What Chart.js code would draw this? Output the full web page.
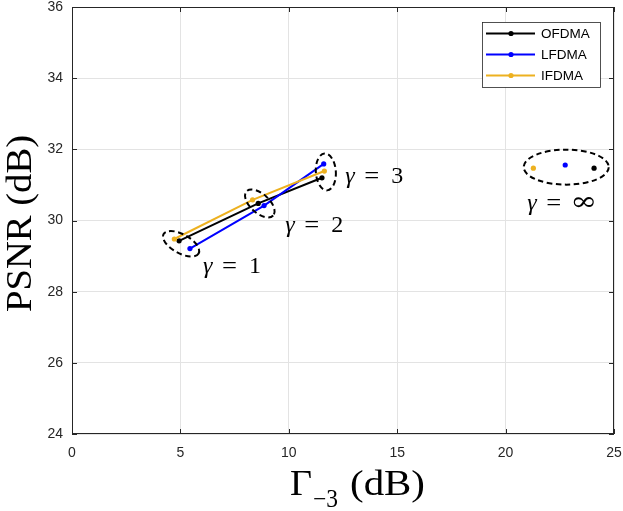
<!DOCTYPE html>
<html><head><meta charset="utf-8">
<script src="https://cdn.jsdelivr.net/npm/chart.js@4.4.0/dist/chart.umd.min.js"></script>
<style>html,body{margin:0;padding:0;background:#fff;overflow:hidden}#wrap{width:623px;height:511px}</style>
</head><body><div id="wrap"><canvas id="c" width="623" height="511"></canvas></div>
<script>
// ---- data ----
const seriesNames = ['OFDMA', 'LFDMA', 'IFDMA'];
const seriesColors = ['#000000', '#0000ff', '#edb120'];
const gammaLabels = ['1', '2', '3', '∞'];
const ofdmaX = [4.94, 8.59, 11.53];
const ofdmaY = [29.43, 30.48, 31.20];
const lfdmaX = [5.44, 8.86, 11.61];
const lfdmaY = [29.21, 30.42, 31.59];
const ifdmaX = [4.72, 8.33, 11.64];
const ifdmaY = [29.48, 30.58, 31.39];
// gamma = infinity points: OFDMA, LFDMA, IFDMA
const infX = [24.08, 22.75, 21.28];
const infY = [31.47, 31.56, 31.47];
const xTicks = [0, 5, 10, 15, 20, 25];
const yTicks = [24, 26, 28, 30, 32, 34, 36];

// ---- styles (pixels) ----
const ellipseStyle = [
  {rx: 20, ry: 9.5, rot: 29, dx: 0, dy: 1},
  {rx: 18, ry: 9.5, rot: 42, dx: 1.5, dy: 0.5},
  {rx: 10, ry: 18.5, rot: -4, dx: 2.5, dy: 1},
  {rx: 42.5, ry: 17.5, rot: 0, dx: 2, dy: 0}
];
const labelStyle = [
  {dx: 22, dy: 30, eq: 19, num: 46},
  {dx: 27, dy: 29, eq: 19, num: 46},
  {dx: 22, dy: 12, eq: 19, num: 46},
  {dx: -37, dy: 43, eq: 19, num: 43}
];

const xsList = [ofdmaX, lfdmaX, ifdmaX];
const ysList = [ofdmaY, lfdmaY, ifdmaY];
const pts = (xs, ys) => xs.map((x, i) => ({x: x, y: ys[i]}));

const datasets = [];
for (let s = 0; s < 3; s++) {
  datasets.push({
    label: seriesNames[s],
    data: pts(xsList[s], ysList[s]),
    showLine: true,
    borderColor: seriesColors[s],
    backgroundColor: seriesColors[s],
    borderWidth: 2,
    pointRadius: 2.6,
    pointBorderWidth: 0,
    pointHoverRadius: 2.6,
    order: 2 - s
  });
}
datasets.push({
  label: 'inf',
  data: pts(infX, infY),
  showLine: false,
  pointRadius: 2.6,
  pointBorderWidth: 0,
  backgroundColor: seriesColors,
  borderColor: seriesColors,
  order: 0
});

function fitText(ctx, text, x, y, target) {
  const w = ctx.measureText(text).width;
  ctx.save();
  ctx.translate(x, y);
  ctx.scale(target / w, 1);
  ctx.fillText(text, 0, 0);
  ctx.restore();
}

const decor = {
  id: 'decor',
  afterDraw(chart) {
    const ctx = chart.ctx;
    const xs = chart.scales.x, ys = chart.scales.y;
    const a = chart.chartArea;
    ctx.save();
    // box
    ctx.strokeStyle = '#262626';
    ctx.lineWidth = 1;
    ctx.strokeRect(a.left + 0.5, a.top + 0.5, a.right - a.left - 1, a.bottom - a.top - 1);
    // inward ticks
    ctx.beginPath();
    xTicks.forEach(v => {
      const p = Math.round(xs.getPixelForValue(v)) + 0.5;
      ctx.moveTo(p, a.bottom); ctx.lineTo(p, a.bottom - 5);
      ctx.moveTo(p, a.top); ctx.lineTo(p, a.top + 5);
    });
    yTicks.forEach(v => {
      const p = Math.round(ys.getPixelForValue(v)) + 0.5;
      ctx.moveTo(a.left, p); ctx.lineTo(a.left + 5, p);
      ctx.moveTo(a.right, p); ctx.lineTo(a.right - 5, p);
    });
    ctx.stroke();

    // ellipses and gamma labels
    const groups = [];
    for (let g = 0; g < 3; g++) {
      groups.push([0, 1, 2].map(s => [xsList[s][g], ysList[s][g]]));
    }
    groups.push(infX.map((x, i) => [x, infY[i]]));
    groups.forEach((grp, g) => {
      let cx = 0, cy = 0;
      grp.forEach(p => { cx += xs.getPixelForValue(p[0]); cy += ys.getPixelForValue(p[1]); });
      cx /= grp.length; cy /= grp.length;
      const st = ellipseStyle[g];
      ctx.beginPath();
      ctx.setLineDash([5.5, 3.5]);
      ctx.lineWidth = 2;
      ctx.strokeStyle = '#000';
      ctx.ellipse(cx + st.dx, cy + st.dy, st.rx, st.ry, st.rot * Math.PI / 180, 0, Math.PI * 2);
      ctx.stroke();
      ctx.setLineDash([]);
      const ls = labelStyle[g];
      const lx = cx + ls.dx, ly = cy + ls.dy;
      ctx.fillStyle = '#000';
      ctx.textAlign = 'left';
      ctx.textBaseline = 'alphabetic';
      ctx.font = 'italic 24px "Liberation Serif"';
      ctx.fillText('γ', lx, ly);
      ctx.font = '24px "Liberation Serif"';
      fitText(ctx, '=', lx + ls.eq, ly, 15);
      if (g === 3) {
        ctx.font = '26px "DejaVu Serif"';
        fitText(ctx, gammaLabels[g], lx + ls.num, ly, 27);
      } else {
        ctx.fillText(gammaLabels[g], lx + ls.num, ly);
      }
    });

    // legend
    ctx.fillStyle = '#fff';
    ctx.fillRect(482, 22, 118, 65);
    ctx.strokeStyle = '#262626';
    ctx.lineWidth = 0.8;
    ctx.strokeRect(482.5, 22.5, 118, 65);
    ctx.font = '13.5px "Liberation Sans"';
    ctx.textBaseline = 'middle';
    for (let s = 0; s < 3; s++) {
      const y = 33.5 + s * 21;
      ctx.strokeStyle = seriesColors[s];
      ctx.lineWidth = 2;
      ctx.beginPath(); ctx.moveTo(486, y); ctx.lineTo(535, y); ctx.stroke();
      ctx.fillStyle = seriesColors[s];
      ctx.beginPath(); ctx.arc(511, y, 2.6, 0, Math.PI * 2); ctx.fill();
      ctx.fillStyle = '#000';
      ctx.fillText(seriesNames[s], 541, y + 0.5);
    }

    // axis titles
    ctx.fillStyle = '#000';
    ctx.textBaseline = 'alphabetic';
    ctx.textAlign = 'left';
    ctx.font = '35px "Liberation Serif"';
    fitText(ctx, 'Γ', 290, 495, 22);
    ctx.font = '25px "Liberation Serif"';
    fitText(ctx, '−3', 313, 507, 25);
    ctx.font = '35px "Liberation Serif"';
    fitText(ctx, '(dB)', 350, 495, 75);

    ctx.save();
    ctx.translate(31, 312);
    ctx.rotate(-Math.PI / 2);
    ctx.font = '35px "Liberation Serif"';
    fitText(ctx, 'PSNR (dB)', 0, 0, 177);
    ctx.restore();

    ctx.restore();
  }
};

new Chart(document.getElementById('c'), {
  type: 'scatter',
  data: {datasets: datasets},
  options: {
    responsive: false,
    animation: false,
    devicePixelRatio: 1,
    layout: {padding: {left: 0, top: 7, right: 9, bottom: 0}},
    plugins: {legend: {display: false}, tooltip: {enabled: false}},
    scales: {
      x: {
        type: 'linear', min: 0, max: 25,
        afterBuildTicks: s => { s.ticks = xTicks.map(v => ({value: v})); },
        afterFit: s => { s.height = 77; s.paddingLeft = 0; s.paddingRight = 0; },
        grid: {color: '#e3e3e3', lineWidth: 1, drawTicks: false},
        border: {display: false},
        ticks: {color: '#262626', font: {family: 'Liberation Sans', size: 14}, padding: 11, maxRotation: 0}
      },
      y: {
        type: 'linear', min: 24, max: 36,
        afterBuildTicks: s => { s.ticks = yTicks.map(v => ({value: v})); },
        afterFit: s => { s.width = 72; s.paddingTop = 0; s.paddingBottom = 0; },
        grid: {color: '#e3e3e3', lineWidth: 1, drawTicks: false},
        border: {display: false},
        ticks: {color: '#262626', font: {family: 'Liberation Sans', size: 14}, padding: 9}
      }
    }
  },
  plugins: [decor]
});
</script>
</body></html>
